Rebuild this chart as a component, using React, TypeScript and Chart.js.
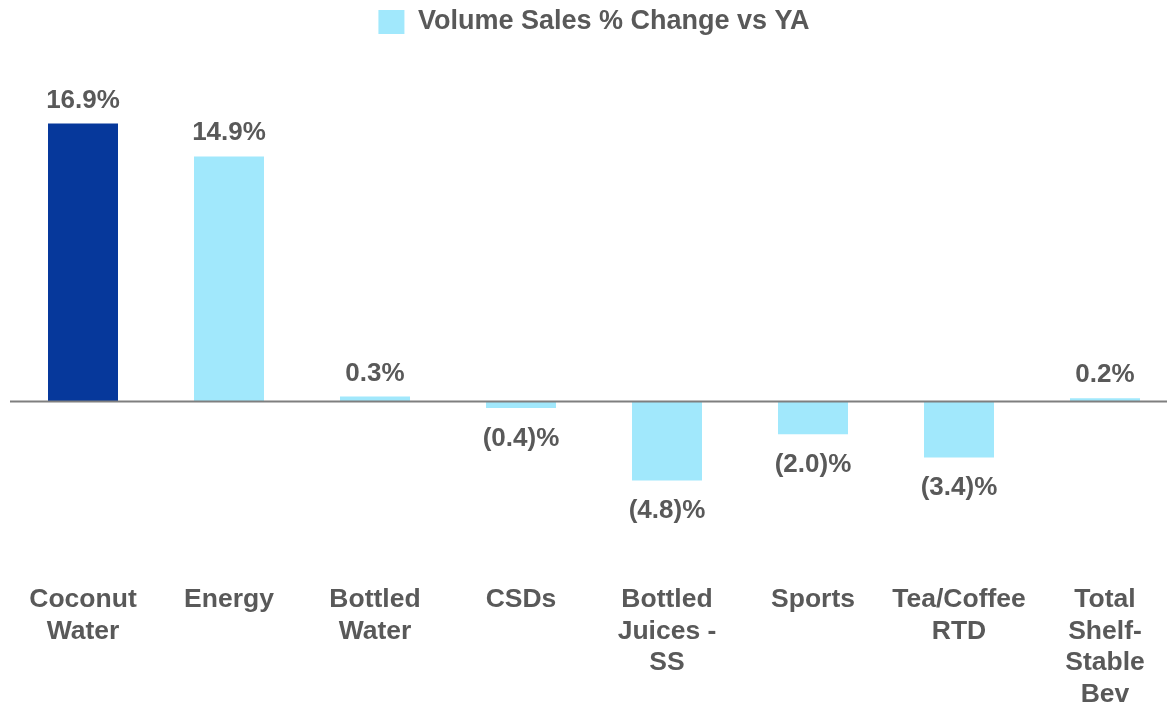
import React, { useEffect, useRef } from "react";
import { Chart, registerables } from "chart.js";

Chart.register(...registerables);

const categories: string[][] = [
  ["Coconut", "Water"],
  ["Energy"],
  ["Bottled", "Water"],
  ["CSDs"],
  ["Bottled", "Juices -", "SS"],
  ["Sports"],
  ["Tea/Coffee", "RTD"],
  ["Total", "Shelf-", "Stable", "Bev"],
];
const volumeChange: number[] = [16.9, 14.9, 0.3, -0.4, -4.8, -2.0, -3.4, 0.2];
const seriesName = "Volume Sales % Change vs YA";

const DARK = "#06389B";
const LIGHT = "#A1E8FC";
const TEXT = "#595959";
const FONT = "'Liberation Sans', Arial, sans-serif";

const barColors = volumeChange.map((_, i) => (i === 0 ? DARK : LIGHT));

const fmt = (v: number) =>
  v < 0 ? `(${Math.abs(v).toFixed(1)})%` : `${v.toFixed(1)}%`;

const zeroLinePlugin = {
  id: "zeroLine",
  afterDatasetsDraw(chart: any) {
    const { ctx, chartArea, scales } = chart;
    const y = scales.y.getPixelForValue(0);
    ctx.save();
    ctx.strokeStyle = "#7f7f7f";
    ctx.lineWidth = 2;
    ctx.beginPath();
    ctx.moveTo(chartArea.left, y);
    ctx.lineTo(chartArea.right, y);
    ctx.stroke();
    ctx.restore();
  },
};

const valueLabelPlugin = {
  id: "valueLabels",
  afterDatasetsDraw(chart: any) {
    const { ctx } = chart;
    const meta = chart.getDatasetMeta(0);
    const data = chart.data.datasets[0].data as number[];
    ctx.save();
    ctx.font = `bold 26px ${FONT}`;
    ctx.fillStyle = TEXT;
    ctx.textAlign = "center";
    ctx.textBaseline = "alphabetic";
    meta.data.forEach((bar: any, i: number) => {
      const v = data[i];
      if (v >= 0) {
        ctx.fillText(fmt(v), bar.x, bar.y - 16);
      } else {
        ctx.fillText(fmt(v), bar.x, bar.y + 38);
      }
    });
    ctx.restore();
  },
};

function App() {
  const canvasRef = useRef<HTMLCanvasElement | null>(null);

  useEffect(() => {
    if (!canvasRef.current) return;
    const chart = new Chart(canvasRef.current, {
      type: "bar",
      data: {
        labels: categories,
        datasets: [
          {
            label: seriesName,
            data: volumeChange,
            backgroundColor: barColors,
            borderWidth: 0,
            categoryPercentage: 1,
            barPercentage: 70 / 146,
          },
        ],
      },
      options: {
        animation: false,
        responsive: false,
        maintainAspectRatio: false,
        layout: { padding: { left: 10, right: 0, top: 0, bottom: 0 } },
        plugins: {
          tooltip: { enabled: false },
          legend: {
            display: true,
            position: "top",
            labels: {
              boxWidth: 26,
              boxHeight: 24,
              padding: 8.5,
              color: TEXT,
              font: { family: FONT, size: 27, weight: "bold" },
              generateLabels: () => [
                {
                  text: seriesName,
                  fillStyle: LIGHT,
                  strokeStyle: LIGHT,
                  lineWidth: 0,
                  hidden: false,
                  datasetIndex: 0,
                  fontColor: TEXT,
                } as any,
              ],
            },
          },
        },
        scales: {
          x: {
            grid: { display: false, drawTicks: false },
            border: { display: false },
            ticks: {
              color: TEXT,
              padding: 0,
              autoSkip: false,
              maxRotation: 0,
              font: { family: FONT, size: 26.5, weight: "bold", lineHeight: "31.5px" },
            },
          },
          y: {
            display: false,
            min: -11.1,
            max: 21.65,
          },
        },
      },
      plugins: [zeroLinePlugin, valueLabelPlugin],
    });
    return () => chart.destroy();
  }, []);

  return (
    <div
      style={{
        position: "fixed",
        left: 0,
        top: 0,
        width: 1167,
        height: 704,
        overflow: "hidden",
        background: "#ffffff",
      }}
    >
      <canvas
        ref={canvasRef}
        width={1178}
        height={710}
        style={{ display: "block", width: 1178, height: 710 }}
      />
    </div>
  );
}

export default App;
